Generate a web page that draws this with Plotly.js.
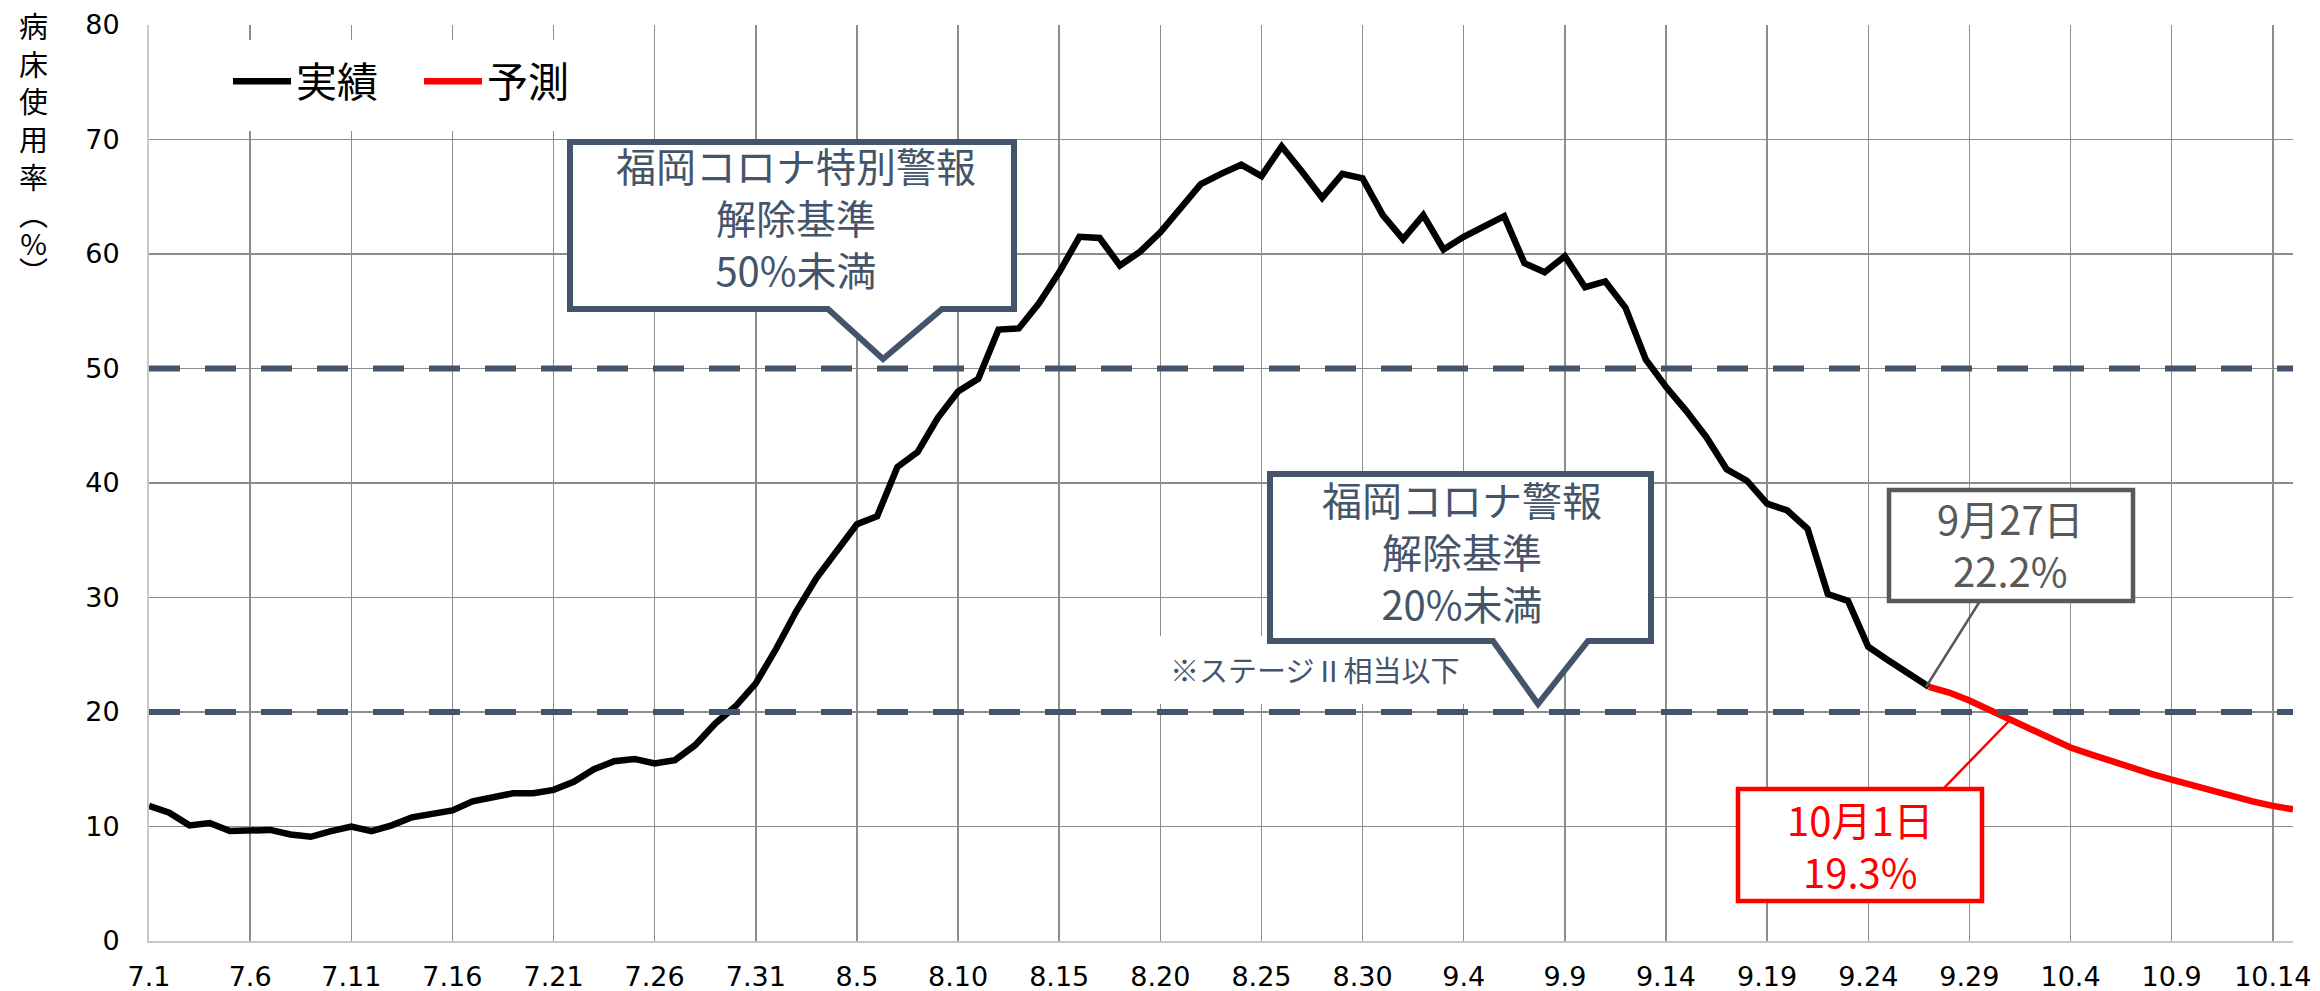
<!DOCTYPE html>
<html>
<head>
<meta charset="utf-8">
<script src="https://cdn.plot.ly/plotly-3.0.1.min.js"></script>
<style>
  html, body { margin: 0; padding: 0; background: #fff; }
  #chart { width: 2320px; height: 991px; }
</style>
</head>
<body>
<div id="chart"></div>
<script>
// ---------------- DATA ----------------
const dates = [
  "7.1","7.2","7.3","7.4","7.5","7.6","7.7","7.8","7.9","7.10",
  "7.11","7.12","7.13","7.14","7.15","7.16","7.17","7.18","7.19","7.20",
  "7.21","7.22","7.23","7.24","7.25","7.26","7.27","7.28","7.29","7.30","7.31",
  "8.1","8.2","8.3","8.4","8.5","8.6","8.7","8.8","8.9","8.10",
  "8.11","8.12","8.13","8.14","8.15","8.16","8.17","8.18","8.19","8.20",
  "8.21","8.22","8.23","8.24","8.25","8.26","8.27","8.28","8.29","8.30","8.31",
  "9.1","9.2","9.3","9.4","9.5","9.6","9.7","9.8","9.9","9.10",
  "9.11","9.12","9.13","9.14","9.15","9.16","9.17","9.18","9.19","9.20",
  "9.21","9.22","9.23","9.24","9.25","9.26","9.27","9.28","9.29","9.30",
  "10.1","10.2","10.3","10.4","10.5","10.6","10.7","10.8","10.9","10.10",
  "10.11","10.12","10.13","10.14","10.15"
];

// 実績 (7.1 - 9.27)
const actualDates = dates.slice(0, 89);
const actualValues = [
  11.8, 11.2, 10.1, 10.3, 9.6, 9.7, 9.7, 9.3, 9.1, 9.6,
  10.0, 9.6, 10.1, 10.8, 11.1, 11.4, 12.2, 12.5, 12.9, 12.9,
  13.2, 13.9, 15.0, 15.7, 15.9, 15.5, 15.8, 17.1, 19.0, 20.5, 22.5,
  25.5, 28.8, 31.7, 34.0, 36.4, 37.1, 41.4, 42.7, 45.7, 48.0,
  49.1, 53.4, 53.5, 55.7, 58.4, 61.5, 61.4, 59.0, 60.2, 61.9,
  63.9, 66.1, 67.0, 67.8, 66.8, 69.4, 67.2, 64.9, 67.0, 66.6, 63.4,
  61.3, 63.4, 60.4, 61.5, 62.4, 63.3, 59.2, 58.4, 59.8, 57.1,
  57.6, 55.3, 50.8, 48.4, 46.3, 44.0, 41.2, 40.2, 38.2, 37.6,
  36.0, 30.3, 29.7, 25.7, 24.5, 23.3, 22.2
];

// 予測 (9.27 - 10.15)
const forecastDates = dates.slice(88);
const forecastValues = [
  22.2, 21.7, 21.0, 20.2, 19.3, 18.5, 17.7, 16.9, 16.3, 15.7,
  15.1, 14.6, 14.1, 13.6, 13.1, 12.7, 12.2, 11.8, 11.5
];

const thresholds = [50, 20];
const tickLabels = dates.filter((d, i) => i % 5 === 0);
const yTicks = [0, 10, 20, 30, 40, 50, 60, 70, 80];

// ---------------- LAYOUT HELPERS ----------------
const W = 2320, H = 991;
const M = { l: 149, r: 27, t: 25, b: 50 };
const PW = W - M.l - M.r, PH = H - M.t - M.b;
const X = px => (px - M.l) / PW;
const Y = py => (H - M.b - py) / PH;
const P = pts => pts.map((p, i) => (i ? 'L' : 'M') + X(p[0]).toFixed(5) + ',' + Y(p[1]).toFixed(5)).join(' ') + ' Z';

const JP = '"Noto Sans CJK JP", "Noto Sans", sans-serif';
const NUM = '"DejaVu Sans", sans-serif';
const SLATE = '#44546A';
const GRAYTXT = '#595959';

const traces = [
  {
    x: actualDates, y: actualValues, type: 'scatter', mode: 'lines', name: '実績',
    line: { color: '#000000', width: 6.5 }, hoverinfo: 'skip'
  },
  {
    x: forecastDates, y: forecastValues, type: 'scatter', mode: 'lines', name: '予測',
    line: { color: '#FF0000', width: 6.5 }, hoverinfo: 'skip'
  }
];

const shapes = [];
// white area behind legend
shapes.push({ type: 'rect', xref: 'paper', yref: 'paper', layer: 'above',
  x0: X(150), x1: X(600), y0: Y(40), y1: Y(131),
  fillcolor: '#ffffff', line: { width: 0 } });
thresholds.forEach(v => shapes.push({
  type: 'line', xref: 'paper', yref: 'y', x0: 0, x1: 1, y0: v, y1: v,
  line: { color: SLATE, width: 6, dash: '31px,25px' }, layer: 'above'
}));
// callout 1
shapes.push({ type: 'path', xref: 'paper', yref: 'paper', layer: 'above',
  path: P([[570,142],[1014,142],[1014,309],[942,309],[883,359],[828,309],[570,309]]),
  fillcolor: '#ffffff', line: { color: SLATE, width: 6 } });
// white backing for note text
shapes.push({ type: 'rect', xref: 'paper', yref: 'paper', layer: 'above',
  x0: X(1157), x1: X(1490), y0: Y(636), y1: Y(704),
  fillcolor: '#ffffff', line: { width: 0 } });
// callout 2
shapes.push({ type: 'path', xref: 'paper', yref: 'paper', layer: 'above',
  path: P([[1270,474],[1651,474],[1651,641],[1588,641],[1538,704],[1493,641],[1270,641]]),
  fillcolor: '#ffffff', line: { color: SLATE, width: 6 } });
// callout 3 (9/27)
shapes.push({ type: 'line', xref: 'paper', yref: 'paper', layer: 'above',
  x0: X(1926), y0: Y(687), x1: X(1980), y1: Y(601), line: { color: GRAYTXT, width: 2.5 } });
shapes.push({ type: 'rect', xref: 'paper', yref: 'paper', layer: 'above',
  x0: X(1889), x1: X(2133), y0: Y(601), y1: Y(490),
  fillcolor: '#ffffff', line: { color: GRAYTXT, width: 4.5 } });
// callout 4 (10/1)
shapes.push({ type: 'line', xref: 'paper', yref: 'paper', layer: 'above',
  x0: X(2010), y0: Y(720), x1: X(1943), y1: Y(789), line: { color: '#FF0000', width: 2.5 } });
shapes.push({ type: 'rect', xref: 'paper', yref: 'paper', layer: 'above',
  x0: X(1738), x1: X(1982), y0: Y(901), y1: Y(789),
  fillcolor: '#ffffff', line: { color: '#FF0000', width: 4.5 } });

const ann = (txt, px, py, size, color, extra) => Object.assign({
  text: txt, xref: 'paper', yref: 'paper', x: X(px), y: Y(py),
  xanchor: 'center', yanchor: 'middle', showarrow: false, align: 'center',
  font: { family: JP, size: size, color: color }
}, extra || {});

const big = s => '<span style="font-size:29px">' + s + '</span>';

const annotations = [
  ann('病<br>床<br>使<br>用<br>率', 33, 100, 29, '#000'),
  ann(big('︵') + '<br>' + big('%') + '<br>' + big('︶'), 33, 241, 22, '#000'),
  ann('福岡コロナ特別警報<br>解除基準<br>50%未満', 796, 217, 40, SLATE),
  ann('福岡コロナ警報<br>解除基準<br>20%未満', 1462, 551, 40, SLATE),
  ann('※ステージⅡ相当以下', 1314, 669, 29, SLATE),
  ann('9月27日<br>22.2%', 2010, 544, 40, GRAYTXT),
  ann('10月1日<br>19.3%', 1860, 845, 40, '#FF0000')
];

const layout = {
  width: W, height: H,
  margin: M,
  paper_bgcolor: '#ffffff', plot_bgcolor: '#ffffff',
  showlegend: true,
  legend: {
    orientation: 'h', x: X(228), y: Y(48), xanchor: 'left', yanchor: 'top',
    bgcolor: 'rgba(255,255,255,0)', borderwidth: 0, itemwidth: 58,
    entrywidth: 118, entrywidthmode: 'pixels',
    font: { family: JP, size: 41, color: '#000' }
  },
  xaxis: {
    type: 'category', categoryorder: 'array', categoryarray: dates,
    range: [0, dates.length - 1], autorange: false,
    tickvals: tickLabels, ticktext: tickLabels,
    showgrid: true, gridcolor: '#8c8c8c', gridwidth: 1.5,
    showline: true, linecolor: '#c8c8c8', linewidth: 2,
    ticks: '', ticklabelstandoff: 11,
    tickfont: { family: NUM, size: 27, color: '#000' },
    fixedrange: true
  },
  yaxis: {
    range: [0, 80], autorange: false,
    tickvals: yTicks,
    showgrid: true, gridcolor: '#8c8c8c', gridwidth: 1.5,
    showline: true, linecolor: '#c8c8c8', linewidth: 2,
    zeroline: false, ticks: '', ticklabelstandoff: 22,
    tickfont: { family: NUM, size: 27, color: '#000' },
    fixedrange: true
  },
  shapes: shapes,
  annotations: annotations
};

Plotly.newPlot('chart', traces, layout, { staticPlot: true, displayModeBar: false });
</script>
</body>
</html>
